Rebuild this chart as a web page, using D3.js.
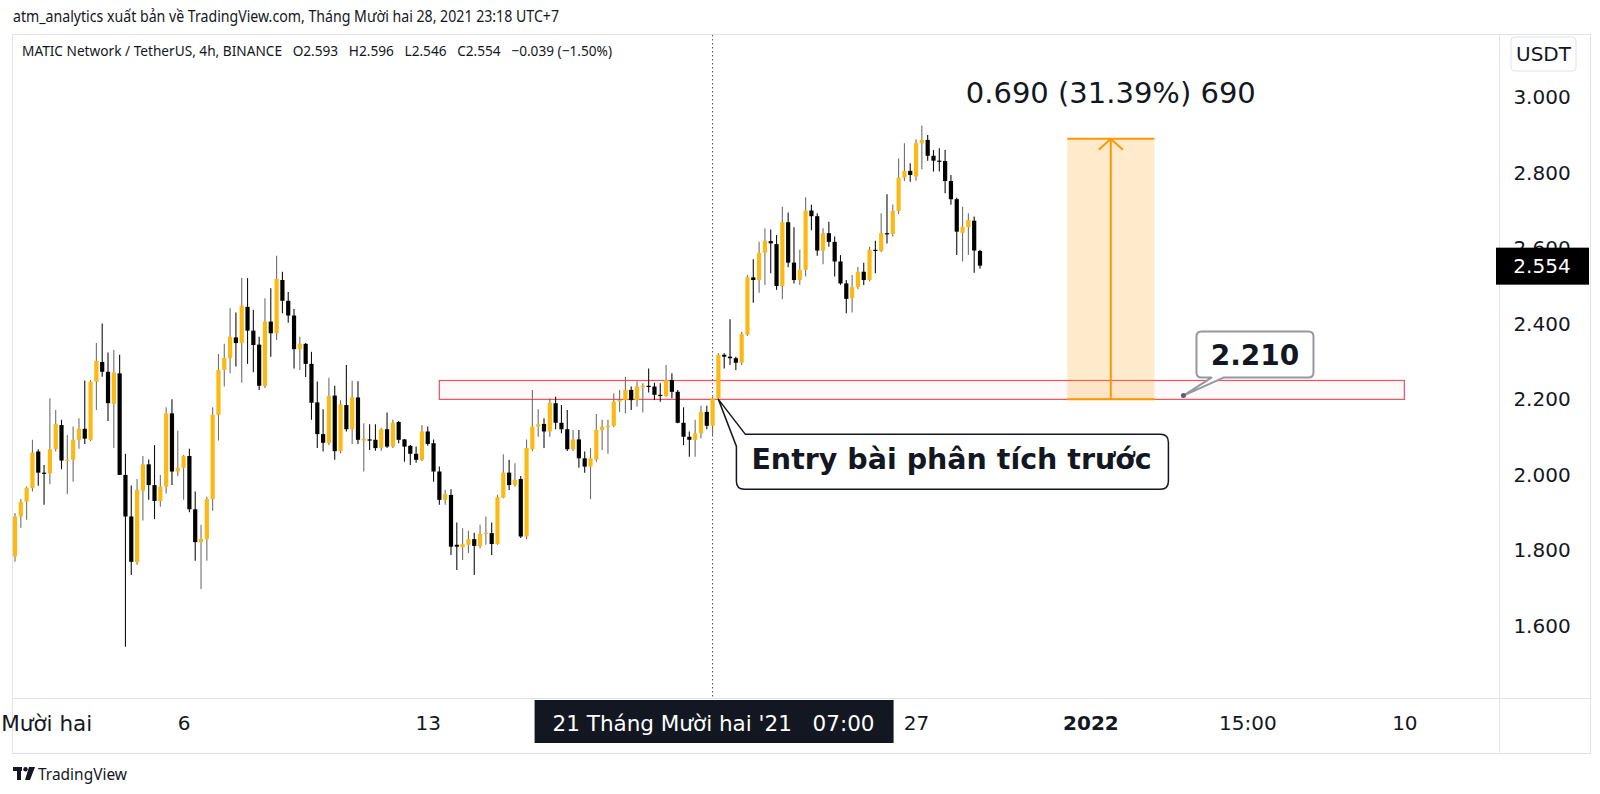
<!DOCTYPE html>
<html lang="vi">
<head>
<meta charset="UTF-8">
<title>MATIC / USDT 4h</title>
<script src="https://d3js.org/d3.v7.min.js"></script>
<style>
  html, body { margin: 0; padding: 0; background: #fff; }
  svg { display: block; }
  .axis text { font-family: "DejaVu Sans", sans-serif; fill: #131722; }
  .axis path, .axis line { display: none; }
</style>
</head>
<body>
<svg id="chart" width="1600" height="794"></svg>
<script>
// ---- data: 4h candles MATIC/USDT, Dec 1 2021 07:00 -> Dec 28 23:00 (UTC+7) ----
const firstBar = new Date(2021, 11, 1, 7);
const lastBar = new Date(2021, 11, 28, 23);
const barHours = 4;

const opens = [
  1.784,1.890,1.929,1.965,2.062,2.006,2.004,2.068,2.132,2.037,2.040,2.093,2.122,2.093,2.247,2.299,2.273,2.188,2.269,2.000,
  1.890,1.769,1.958,2.028,1.973,1.931,1.969,2.163,2.009,2.019,2.050,1.909,1.822,1.830,1.936,2.159,2.278,2.309,2.364,2.349,
  2.445,2.382,2.345,2.236,2.406,2.375,2.516,2.461,2.422,2.333,2.347,2.294,2.192,2.108,2.084,2.210,2.063,2.185,2.121,2.205,
  2.091,2.094,2.093,2.072,2.121,2.075,2.140,2.094,2.077,2.056,2.040,2.115,2.084,2.009,1.934,1.947,1.815,1.809,1.815,1.830,
  1.812,1.844,1.846,1.817,1.940,2.006,1.973,1.989,1.837,2.068,2.128,2.135,2.115,2.190,2.138,2.121,2.068,2.094,2.044,2.022,
  2.041,2.119,2.126,2.130,2.194,2.198,2.225,2.198,2.232,2.236,2.234,2.212,2.209,2.251,2.220,2.138,2.101,2.093,2.110,2.167,
  2.130,2.203,2.318,2.313,2.309,2.297,2.371,2.523,2.516,2.588,2.619,2.611,2.500,2.669,2.562,2.516,2.543,2.700,2.685,2.594,
  2.640,2.617,2.565,2.507,2.468,2.497,2.538,2.516,2.596,2.593,2.640,2.638,2.699,2.787,2.805,2.790,2.878,2.887,2.845,2.832,
  2.831,2.778,2.730,2.641,2.656,2.673,2.593
];
const highs = [
  1.899,1.936,1.969,2.093,2.068,2.026,2.203,2.172,2.146,2.106,2.128,2.150,2.250,2.251,2.349,2.401,2.324,2.331,2.318,2.056,
  1.972,1.989,2.050,2.041,2.079,2.000,2.179,2.200,2.117,2.053,2.069,1.956,1.868,1.942,2.179,2.320,2.347,2.441,2.430,2.522,
  2.521,2.437,2.366,2.468,2.494,2.580,2.538,2.484,2.439,2.366,2.349,2.326,2.247,2.174,2.257,2.236,2.198,2.291,2.249,2.248,
  2.137,2.134,2.134,2.125,2.165,2.147,2.143,2.095,2.079,2.075,2.132,2.128,2.094,2.022,1.960,1.962,1.874,1.859,1.852,1.847,
  1.868,1.890,1.874,1.947,2.055,2.040,2.031,1.997,2.094,2.225,2.174,2.150,2.203,2.207,2.185,2.172,2.119,2.119,2.062,2.071,
  2.161,2.146,2.146,2.216,2.225,2.260,2.234,2.247,2.243,2.282,2.244,2.243,2.291,2.269,2.225,2.179,2.115,2.146,2.183,2.183,
  2.207,2.322,2.322,2.412,2.313,2.379,2.529,2.571,2.617,2.653,2.650,2.635,2.710,2.695,2.656,2.596,2.735,2.715,2.693,2.653,
  2.670,2.631,2.582,2.516,2.529,2.551,2.562,2.604,2.620,2.693,2.743,2.716,2.838,2.878,2.825,2.889,2.925,2.900,2.860,2.865,
  2.860,2.794,2.734,2.710,2.693,2.684,2.596
];
const lows = [
  1.770,1.860,1.881,1.956,1.971,1.921,1.975,2.062,2.015,1.949,1.982,2.069,2.082,2.090,2.172,2.260,2.143,2.071,2.000,1.545,
  1.735,1.762,1.879,1.934,1.883,1.916,1.951,1.973,1.997,1.934,1.901,1.773,1.698,1.773,1.905,2.091,2.234,2.269,2.287,2.244,
  2.294,2.272,2.225,2.230,2.313,2.357,2.428,2.403,2.282,2.278,2.259,2.146,2.071,2.062,2.079,2.040,2.057,2.115,2.082,2.082,
  2.009,2.066,2.064,2.064,2.071,2.071,2.084,2.035,2.026,2.032,2.037,2.077,1.982,1.921,1.921,1.788,1.748,1.775,1.793,1.735,
  1.806,1.815,1.788,1.815,1.938,1.960,1.969,1.833,1.830,2.063,2.101,2.071,2.101,2.121,2.110,2.063,2.063,2.019,2.006,1.936,
  2.035,2.066,2.056,2.126,2.167,2.163,2.172,2.181,2.165,2.218,2.198,2.194,2.207,2.203,2.137,2.079,2.048,2.048,2.097,2.121,
  2.106,2.200,2.282,2.291,2.278,2.291,2.368,2.456,2.482,2.503,2.534,2.490,2.465,2.550,2.507,2.503,2.525,2.648,2.580,2.558,
  2.604,2.525,2.503,2.428,2.430,2.492,2.503,2.513,2.534,2.590,2.613,2.631,2.691,2.778,2.776,2.779,2.809,2.832,2.803,2.803,
  2.746,2.715,2.582,2.565,2.582,2.535,2.546
];
const closes = [
  1.890,1.929,1.966,2.059,2.006,2.004,2.068,2.135,2.038,2.040,2.093,2.122,2.096,2.247,2.302,2.273,2.190,2.271,2.000,1.890,
  1.770,1.960,2.028,1.973,1.931,1.969,2.163,2.009,2.019,2.050,1.909,1.822,1.831,1.936,2.159,2.278,2.310,2.366,2.349,2.448,
  2.382,2.344,2.236,2.406,2.375,2.519,2.461,2.422,2.333,2.347,2.294,2.191,2.108,2.085,2.209,2.063,2.187,2.121,2.205,2.093,
  2.096,2.093,2.071,2.121,2.075,2.138,2.093,2.075,2.056,2.040,2.115,2.082,2.009,1.934,1.949,1.810,1.810,1.817,1.830,1.812,
  1.844,1.847,1.817,1.941,2.006,1.973,1.987,1.837,2.071,2.128,2.134,2.115,2.191,2.138,2.121,2.068,2.094,2.044,2.022,2.044,
  2.119,2.128,2.130,2.194,2.198,2.225,2.198,2.234,2.236,2.234,2.212,2.209,2.251,2.220,2.138,2.101,2.093,2.110,2.167,2.130,
  2.203,2.318,2.313,2.309,2.297,2.373,2.523,2.516,2.588,2.620,2.613,2.500,2.669,2.562,2.516,2.543,2.700,2.685,2.594,2.640,
  2.617,2.565,2.507,2.466,2.497,2.538,2.516,2.596,2.593,2.640,2.638,2.699,2.787,2.805,2.794,2.878,2.887,2.845,2.832,2.829,
  2.778,2.730,2.644,2.657,2.675,2.594,2.554
];

const priceTicks = [1.6, 1.8, 2.0, 2.2, 2.4, 2.6, 2.8, 3.0];
const timeTickDates = [
  new Date(2021, 11, 1, 3), new Date(2021, 11, 6, 3), new Date(2021, 11, 13, 3),
  new Date(2021, 11, 27, 3), new Date(2022, 0, 1, 3),
  new Date(2022, 0, 5, 15), new Date(2022, 0, 10, 3)
];
const timeTickLabels = ["Tháng Mười hai", "6", "13", "27", "2022", "15:00", "10"];
const boldTicks = ["2022"];

const lastPrice = 2.554;
const zoneLow = 2.2, zoneHigh = 2.25;
const zoneStart = new Date(2021, 11, 13, 11), zoneEnd = new Date(2022, 0, 10, 3);
const measureLow = 2.2, measureHigh = 2.89;
const measureStart = new Date(2021, 11, 31, 11), measureEnd = new Date(2022, 0, 2, 23);
const measureText = "0.690 (31.39%) 690";
const entryDate = new Date(2021, 11, 21, 11), entryPrice = 2.2;
const noteDate = new Date(2022, 0, 3, 19), notePrice = 2.21;
const crossDate = new Date(2021, 11, 21, 7);

const headerText = "atm_analytics xuất bản về TradingView.com, Tháng Mười hai 28, 2021 23:18 UTC+7";
const legendText = "MATIC Network / TetherUS, 4h, BINANCE   O2.593   H2.596   L2.546   C2.554   −0.039 (−1.50%)";

// ---- scales ----
const svg = d3.select("#chart");
const x = d3.scaleTime().domain([firstBar, lastBar]).range([15, 980]);
const y = d3.scaleLinear().domain([1.6, 3.0]).range([626, 97.2]);

const upColor = "#fdb913", downColor = "#000000";
const candles = closes.map((c, i) => ({
  t: new Date(firstBar.getTime() + i * barHours * 3600e3),
  o: opens[i], h: highs[i], l: lows[i], c: c
}));

// ---- header ----
svg.append("text").attr("x", 13).attr("y", 22)
  .attr("textLength", 546).attr("lengthAdjust", "spacingAndGlyphs")
  .style("font-family", "'Liberation Sans Narrow', 'Noto Sans', sans-serif")
  .style("font-size", "16px").style("fill", "#131722").text(headerText);

// pane frame
const frame = svg.append("g").attr("stroke", "#e0e3eb").attr("stroke-width", 1).attr("fill", "none");
frame.append("rect").attr("x", 12.5).attr("y", 34.5).attr("width", 1578).attr("height", 719);
frame.append("line").attr("x1", 1499.5).attr("x2", 1499.5).attr("y1", 34).attr("y2", 754);
frame.append("line").attr("x1", 12).attr("x2", 1591).attr("y1", 698.5).attr("y2", 698.5);

svg.append("text").attr("x", 22).attr("y", 56)
  .attr("textLength", 590).attr("lengthAdjust", "spacingAndGlyphs")
  .style("white-space", "pre")
  .style("font-family", "'Liberation Sans Narrow', 'Noto Sans', sans-serif")
  .style("font-size", "14.5px").style("fill", "#131722").text(legendText);

// ---- support zone ----
svg.append("rect")
  .attr("x", x(zoneStart)).attr("y", y(zoneHigh))
  .attr("width", x(zoneEnd) - x(zoneStart)).attr("height", y(zoneLow) - y(zoneHigh))
  .attr("fill", "rgba(242,54,69,0.03)").attr("stroke", "#f0525e").attr("stroke-width", 1.2);

// ---- crosshair ----
svg.append("line").attr("x1", x(crossDate)).attr("x2", x(crossDate))
  .attr("y1", 35).attr("y2", 698)
  .attr("stroke", "#50535e").attr("stroke-width", 1).attr("stroke-dasharray", "1.5,2.5");

// ---- candles ----
const bw = 4.2;
const cg = svg.append("g");
cg.selectAll("line.wick").data(candles).enter().append("line")
  .attr("class", "wick")
  .attr("x1", d => x(d.t)).attr("x2", d => x(d.t))
  .attr("y1", d => y(d.h)).attr("y2", d => y(d.l))
  .attr("stroke", d => d.c >= d.o ? "#6f6f6f" : "#111")
  .attr("stroke-width", 1.1);
cg.selectAll("rect.body").data(candles).enter().append("rect")
  .attr("class", "body")
  .attr("x", d => x(d.t) - bw / 2)
  .attr("y", d => y(Math.max(d.o, d.c)))
  .attr("width", bw)
  .attr("height", d => Math.max(1.2, Math.abs(y(d.o) - y(d.c))))
  .attr("fill", d => d.c >= d.o ? upColor : downColor);

// ---- measure tool ----
const mx0 = x(measureStart), mx1 = x(measureEnd), mxc = (mx0 + mx1) / 2;
svg.append("rect").attr("x", mx0).attr("y", y(measureHigh))
  .attr("width", mx1 - mx0).attr("height", y(measureLow) - y(measureHigh))
  .attr("fill", "rgba(255,152,0,0.2)");
const mg = svg.append("g").attr("stroke", "#ff9800").attr("stroke-width", 2).attr("fill", "none");
mg.append("line").attr("x1", mx0).attr("x2", mx1).attr("y1", y(measureHigh)).attr("y2", y(measureHigh));
mg.append("line").attr("x1", mx0).attr("x2", mx1).attr("y1", y(measureLow)).attr("y2", y(measureLow));
mg.append("line").attr("x1", mxc).attr("x2", mxc).attr("y1", y(measureLow)).attr("y2", y(measureHigh));
mg.append("path").attr("d", `M${mxc - 12},${y(measureHigh) + 11} L${mxc},${y(measureHigh)} L${mxc + 12},${y(measureHigh) + 11}`);
svg.append("text").attr("x", mxc).attr("y", 103)
  .attr("text-anchor", "middle")
  .style("font-family", "'DejaVu Sans', sans-serif").style("font-size", "29px")
  .style("fill", "#131722").text(measureText);

// ---- entry callout ----
const ex = x(entryDate), ey = y(entryPrice);
const bx0 = ex + 18, bx1 = ex + 450, by0 = ey + 35, by1 = ey + 90, r = 8;
svg.append("path")
  .attr("d", `M${bx0 + 9},${by0} L${bx1 - r},${by0} Q${bx1},${by0} ${bx1},${by0 + r} L${bx1},${by1 - r} Q${bx1},${by1} ${bx1 - r},${by1} L${bx0 + r},${by1} Q${bx0},${by1} ${bx0},${by1 - r} L${bx0},${by0 + 12} L${ex},${ey} Z`)
  .attr("fill", "#fff").attr("stroke", "#131722").attr("stroke-width", 1.5).attr("stroke-linejoin", "round");
svg.append("text").attr("x", bx0 + 15).attr("y", by0 + 35)
  .style("font-family", "'DejaVu Sans', sans-serif").style("font-weight", "bold")
  .style("font-size", "28.5px").style("fill", "#131722")
  .text("Entry bài phân tích trước");

// ---- 2.210 note ----
const nx = x(noteDate), ny = y(notePrice);
const nb0 = nx + 13, nb1 = nx + 130, nt0 = ny - 64, nt1 = ny - 18;
svg.append("path")
  .attr("d", `M${nb0 + 5},${nt0} L${nb1 - 5},${nt0} Q${nb1},${nt0} ${nb1},${nt0 + 5} L${nb1},${nt1 - 5} Q${nb1},${nt1} ${nb1 - 5},${nt1} L${nb0 + 27},${nt1} L${nx},${ny} L${nb0 + 15},${nt1} L${nb0 + 5},${nt1} Q${nb0},${nt1} ${nb0},${nt1 - 5} L${nb0},${nt0 + 5} Q${nb0},${nt0} ${nb0 + 5},${nt0} Z`)
  .attr("fill", "#fff").attr("stroke", "#9598a1").attr("stroke-width", 2).attr("stroke-linejoin", "round");
svg.append("circle").attr("cx", nx).attr("cy", ny).attr("r", 2.5).attr("fill", "#5d606b");
svg.append("text").attr("x", (nb0 + nb1) / 2).attr("y", nt1 - 13)
  .attr("text-anchor", "middle")
  .style("font-family", "'DejaVu Sans', sans-serif").style("font-weight", "bold")
  .style("font-size", "28px").style("fill", "#131722").text("2.210");

// ---- price axis ----
const yAxis = svg.append("g").attr("class", "axis").attr("transform", "translate(1542,0)")
  .call(d3.axisRight(y).tickValues(priceTicks).tickFormat(d3.format(".3f")).tickSize(0).tickPadding(0));
yAxis.selectAll("text").attr("text-anchor", "middle").attr("x", 0).style("font-size", "20px");

// USDT badge
svg.append("rect").attr("x", 1511).attr("y", 37).attr("width", 65).attr("height", 34).attr("rx", 4)
  .attr("fill", "#fff").attr("stroke", "#e0e3eb");
svg.append("text").attr("x", 1543.5).attr("y", 61).attr("text-anchor", "middle")
  .style("font-family", "'DejaVu Sans', sans-serif").style("font-size", "20px").style("fill", "#131722").text("USDT");

// last price
svg.append("rect").attr("x", 1496).attr("y", y(lastPrice) - 18).attr("width", 93).attr("height", 37)
  .attr("fill", "#000");
svg.append("text").attr("x", 1542).attr("y", y(lastPrice)).attr("dy", "0.36em").attr("text-anchor", "middle")
  .style("font-family", "'DejaVu Sans', sans-serif").style("font-size", "20px").style("fill", "#fff")
  .text(d3.format(".3f")(lastPrice));

// ---- time axis ----
const xAxis = svg.append("g").attr("class", "axis").attr("transform", "translate(0,723)")
  .call(d3.axisBottom(x).tickValues(timeTickDates).tickFormat((d, i) => timeTickLabels[i]).tickSize(0).tickPadding(0));
xAxis.selectAll("text").attr("y", 0).attr("dy", "0.36em").style("font-size", "20px")
  .style("font-weight", d => boldTicks.includes(timeTickLabels[timeTickDates.indexOf(d)]) ? "bold" : "normal");
xAxis.selectAll("text").filter((d, i) => i === 0).style("font-size", "21.5px");

// crosshair time label
const cx = x(crossDate);
svg.append("rect").attr("x", cx - 178).attr("y", 700).attr("width", 359).attr("height", 43).attr("fill", "#131722");
const ct = svg.append("text").attr("y", 723).attr("dy", "0.36em")
  .style("font-family", "'DejaVu Sans', sans-serif").style("font-size", "21.5px").style("fill", "#fff");
ct.append("tspan").attr("x", cx - 160).text("21 Tháng Mười hai '21");
ct.append("tspan").attr("x", cx + 100).text("07:00");

// ---- footer logo ----
const logo = svg.append("g").attr("transform", "translate(13,767)").attr("fill", "#131722");
logo.append("rect").attr("x", 0).attr("y", 0).attr("width", 9).attr("height", 4);
logo.append("rect").attr("x", 4).attr("y", 0).attr("width", 4).attr("height", 13);
logo.append("circle").attr("cx", 12.5).attr("cy", 2.2).attr("r", 2.2);
logo.append("path").attr("d", "M16,0 L22,0 L17,13 L12,13 Z");
svg.append("text").attr("x", 38).attr("y", 780)
  .attr("textLength", 89).attr("lengthAdjust", "spacingAndGlyphs")
  .style("font-family", "'Liberation Sans Narrow', 'Noto Sans', sans-serif")
  .style("font-size", "16px").style("fill", "#131722").text("TradingView");
</script>
</body>
</html>
